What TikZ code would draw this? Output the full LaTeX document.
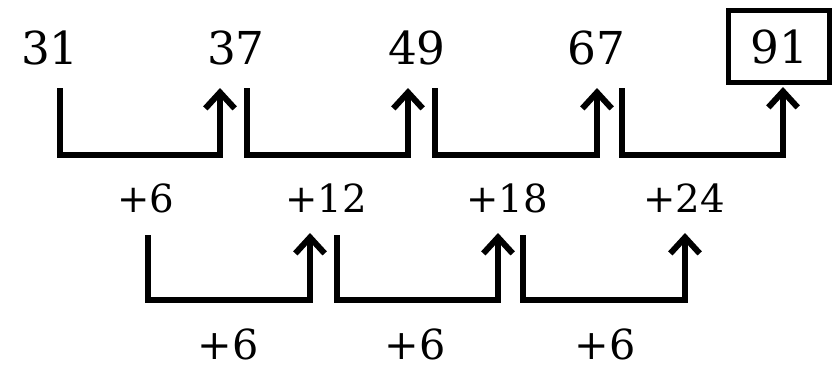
\documentclass[tikz,border=0pt]{standalone}
\usepackage{fontspec}
\setmainfont{DejaVu Serif}
\usetikzlibrary{arrows.meta}
\tikzset{
  num/.style={inner sep=0pt,anchor=south,text depth=0pt,font=\fontsize{34}{34}\selectfont},
  inc/.style={num,font=\fontsize{29}{29}\selectfont},
  incb/.style={num,font=\fontsize{31}{31}\selectfont},
  ansbox/.style={num,draw,line width=4pt,minimum width=76pt,minimum height=54pt},
  conn/.style={-{Straight Barb[length=12pt,width=22pt]},line width=4.5pt,line join=miter},
}
\begin{document}
\begin{tikzpicture}[x=0.75pt,y=-0.75pt]
  \useasboundingbox (0,0) rectangle (837,368);
  % the series
  \node[num] (n31) at (50,65) {31};
  \node[num] (n37) at (236,65) {37};
  \node[num] (n49) at (417,65) {49};
  \node[num] (n67) at (596,65) {67};
  \node[ansbox] (n91) at (779,85) {91};
  % first differences
  \node[inc] (p6) at (146,213) {+6};
  \node[inc] (p12) at (326,213) {+12};
  \node[inc] (p18) at (507,213) {+18};
  \node[inc] (p24) at (684,213) {+24};
  % second differences
  \node[incb] (q1) at (228,360) {+6};
  \node[incb] (q2) at (415,360) {+6};
  \node[incb] (q3) at (605,360) {+6};

  \draw[conn] ([shift={(10,23)}]n31.south) -- ++(0,67) -| ([shift={(-16,23)}]n37.south);
  \draw[conn] ([shift={(11,23)}]n37.south) -- ++(0,67) -| ([shift={(-9,23)}]n49.south);
  \draw[conn] ([shift={(18,23)}]n49.south) -- ++(0,67) -| ([shift={(1,23)}]n67.south);
  \draw[conn] ([shift={(26,23)}]n67.south) -- ++(0,67) -| ([shift={(4,2)}]n91.south);

  \draw[conn] ([shift={(2,22)}]p6.south) -- ++(0,65) -| ([shift={(-16,20)}]p12.south);
  \draw[conn] ([shift={(11,22)}]p12.south) -- ++(0,65) -| ([shift={(-9,20)}]p18.south);
  \draw[conn] ([shift={(16,22)}]p18.south) -- ++(0,65) -| ([shift={(1,20)}]p24.south);
\end{tikzpicture}
\end{document}
